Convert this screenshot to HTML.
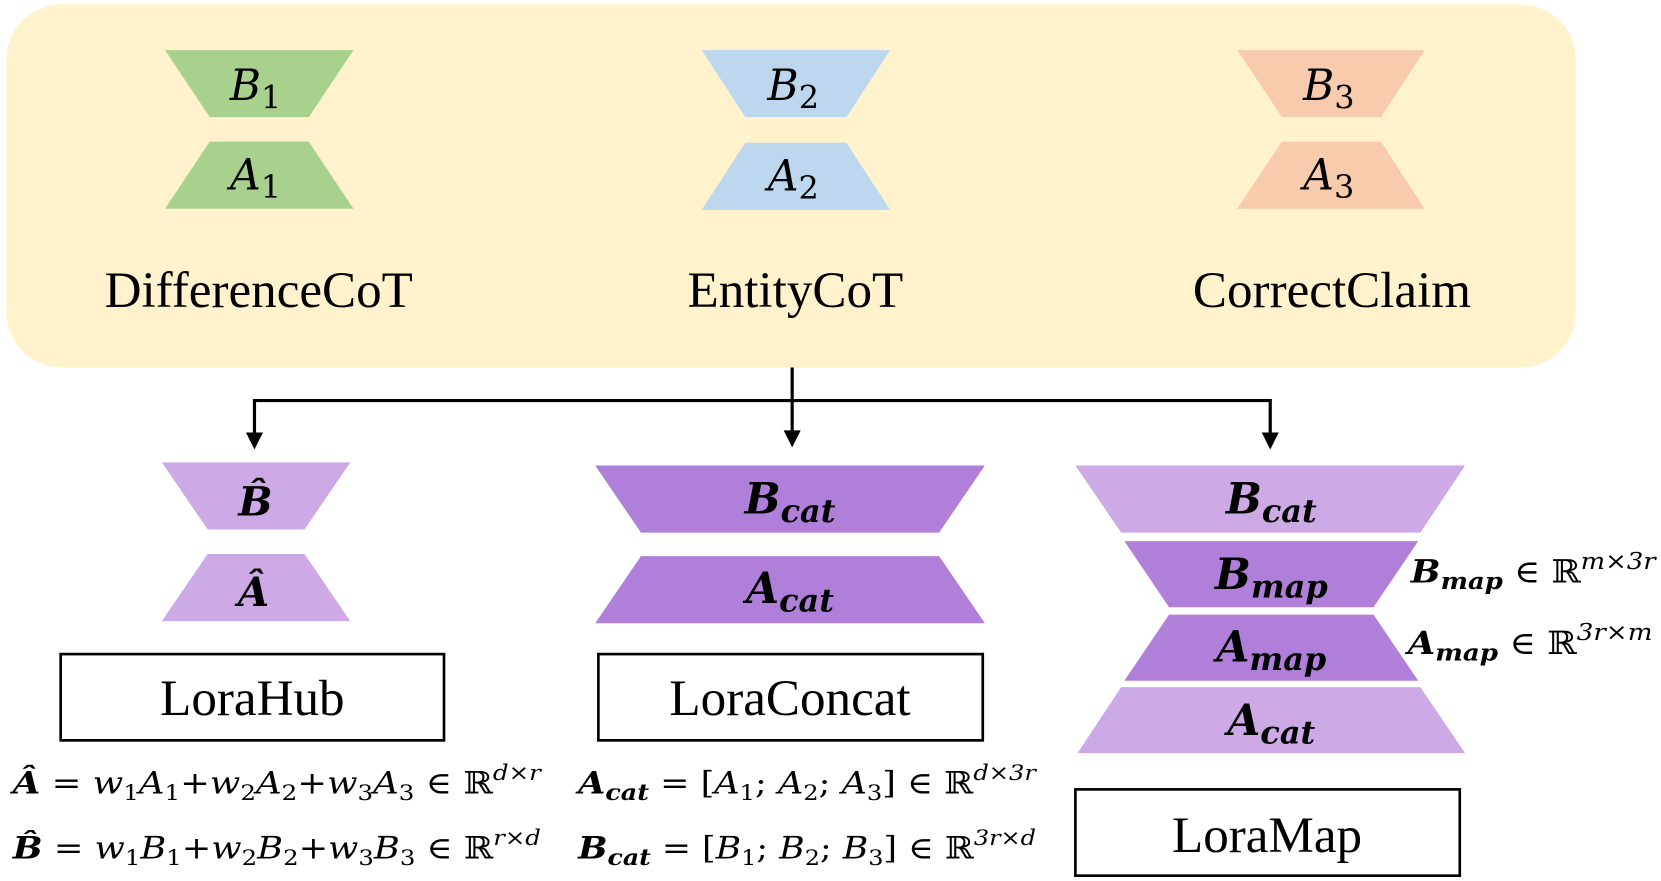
<!DOCTYPE html>
<html><head><meta charset="utf-8">
<style>
html,body{margin:0;padding:0;background:#fff;}
svg{display:block;}
.m{font-family:"DejaVu Serif","Liberation Serif",serif;font-style:italic;}
.t{font-family:"Liberation Serif",serif;}
.mb{font-family:"DejaVu Serif","Liberation Serif",serif;font-style:italic;font-weight:bold;}
.r{font-family:"DejaVu Serif",serif;font-style:normal;}
</style></head>
<body>
<svg width="1661" height="881" viewBox="0 0 1560 827" preserveAspectRatio="none" xmlns="http://www.w3.org/2000/svg">
<rect x="6" y="4" width="1474" height="341" rx="52" fill="#fff2cc"/>

<g>
<polygon points="155,47 332,47 290,110 197,110" fill="#a9d18e"/>
<polygon points="197,133 290,133 332,196 155,196" fill="#a9d18e"/>
<text x="240" y="94" class="m" font-size="40" text-anchor="middle">B<tspan font-size="30" font-style="normal" dy="8">1</tspan></text>
<text x="240" y="178" class="m" font-size="40" text-anchor="middle">A<tspan font-size="30" font-style="normal" dy="8">1</tspan></text>
<text x="243" y="288" class="t" font-size="48" text-anchor="middle">DifferenceCoT</text>
</g>
<g>
<polygon points="659,47 836,47 795,110 700,110" fill="#bdd7ee"/>
<polygon points="700,134 795,134 836,197 659,197" fill="#bdd7ee"/>
<text x="745" y="94" class="m" font-size="40" text-anchor="middle">B<tspan font-size="30" font-style="normal" dy="8">2</tspan></text>
<text x="745" y="179" class="m" font-size="40" text-anchor="middle">A<tspan font-size="30" font-style="normal" dy="8">2</tspan></text>
<text x="747" y="288" class="t" font-size="48" text-anchor="middle">EntityCoT</text>
</g>
<g>
<polygon points="1162,47 1338,47 1297,110 1204,110" fill="#f8cbad"/>
<polygon points="1204,133 1297,133 1338,196 1162,196" fill="#f8cbad"/>
<text x="1248" y="94" class="m" font-size="40" text-anchor="middle">B<tspan font-size="30" font-style="normal" dy="8">3</tspan></text>
<text x="1248" y="178" class="m" font-size="40" text-anchor="middle">A<tspan font-size="30" font-style="normal" dy="8">3</tspan></text>
<text x="1251" y="288" class="t" font-size="48" text-anchor="middle">CorrectClaim</text>
</g>

<g stroke="#000" stroke-width="3" fill="none">
<line x1="744" y1="345" x2="744" y2="408"/>
<polyline points="239,408 239,376 1193,376 1193,408"/>
</g>
<g fill="#000">
<polygon points="231,406 247,406 239,422"/>
<polygon points="736,404 752,404 744,420"/>
<polygon points="1185,406 1201,406 1193,422"/>
</g>

<g>
<polygon points="152,434 329,434 286,497 195,497" fill="#cdaae6"/>
<polygon points="195,520 286,520 329,583 152,583" fill="#cdaae6"/>
<text x="240" y="484" class="mb" font-size="38" text-anchor="middle">B̂</text>
<text x="238" y="569" class="mb" font-size="38" text-anchor="middle">Â</text>
<rect x="57" y="614" width="360" height="81" fill="#fff" stroke="#000" stroke-width="2.5"/>
<text x="237" y="671" class="t" font-size="48" text-anchor="middle">LoraHub</text>
</g>
<g>
<polygon points="559,437 925,437 882,500 602,500" fill="#b07fd9"/>
<polygon points="602,522 882,522 925,585 559,585" fill="#b07fd9"/>
<text x="742" y="482" class="mb" font-size="40" text-anchor="middle">B<tspan font-size="30" dy="8">cat</tspan></text>
<text x="742" y="566" class="mb" font-size="40" text-anchor="middle">A<tspan font-size="30" dy="8">cat</tspan></text>
<rect x="562" y="614" width="361" height="81" fill="#fff" stroke="#000" stroke-width="2.5"/>
<text x="742" y="671" class="t" font-size="48" text-anchor="middle">LoraConcat</text>
</g>
<g>
<polygon points="1010,437 1376,437 1334,500 1053,500" fill="#cdaae6"/>
<polygon points="1056,508 1332,508 1290,570 1098,570" fill="#b07fd9"/>
<polygon points="1098,577 1290,577 1332,639 1056,639" fill="#b07fd9"/>
<polygon points="1053,645 1334,645 1376,707 1012,707" fill="#cdaae6"/>
<text x="1194" y="482" class="mb" font-size="40" text-anchor="middle">B<tspan font-size="30" dy="8">cat</tspan></text>
<text x="1194" y="553" class="mb" font-size="40" text-anchor="middle">B<tspan font-size="30" dy="8">map</tspan></text>
<text x="1194" y="621" class="mb" font-size="40" text-anchor="middle">A<tspan font-size="30" dy="8">map</tspan></text>
<text x="1194" y="690" class="mb" font-size="40" text-anchor="middle">A<tspan font-size="30" dy="8">cat</tspan></text>
<text x="1325" y="547" class="mb" font-size="30" textLength="230" lengthAdjust="spacingAndGlyphs">B<tspan font-size="22" dy="6">map</tspan><tspan class="r" font-weight="normal" dy="-6"> ∈ ℝ</tspan><tspan class="m" font-weight="normal" font-size="22" dy="-13">m×3r</tspan></text>
<text x="1322" y="614" class="mb" font-size="30" textLength="230" lengthAdjust="spacingAndGlyphs">A<tspan font-size="22" dy="6">map</tspan><tspan class="r" font-weight="normal" dy="-6"> ∈ ℝ</tspan><tspan class="m" font-weight="normal" font-size="22" dy="-13">3r×m</tspan></text>
<rect x="1010" y="741" width="361" height="81" fill="#fff" stroke="#000" stroke-width="2.5"/>
<text x="1190" y="800" class="t" font-size="48" text-anchor="middle">LoraMap</text>
</g>

<g>
<text x="12" y="745" class="m" font-size="29" textLength="496" lengthAdjust="spacingAndGlyphs"><tspan font-weight="bold">Â</tspan><tspan class="r"> = </tspan>w<tspan font-size="20" font-style="normal" dy="6">1</tspan><tspan dy="-6">A</tspan><tspan font-size="20" font-style="normal" dy="6">1</tspan><tspan class="r" dy="-6">+</tspan>w<tspan font-size="20" font-style="normal" dy="6">2</tspan><tspan dy="-6">A</tspan><tspan font-size="20" font-style="normal" dy="6">2</tspan><tspan class="r" dy="-6">+</tspan>w<tspan font-size="20" font-style="normal" dy="6">3</tspan><tspan dy="-6">A</tspan><tspan font-size="20" font-style="normal" dy="6">3</tspan><tspan class="r" dy="-6"> ∈ ℝ</tspan><tspan font-size="20" dy="-13">d×r</tspan></text>
<text x="12" y="806" class="m" font-size="29" textLength="496" lengthAdjust="spacingAndGlyphs"><tspan font-weight="bold">B̂</tspan><tspan class="r"> = </tspan>w<tspan font-size="20" font-style="normal" dy="6">1</tspan><tspan dy="-6">B</tspan><tspan font-size="20" font-style="normal" dy="6">1</tspan><tspan class="r" dy="-6">+</tspan>w<tspan font-size="20" font-style="normal" dy="6">2</tspan><tspan dy="-6">B</tspan><tspan font-size="20" font-style="normal" dy="6">2</tspan><tspan class="r" dy="-6">+</tspan>w<tspan font-size="20" font-style="normal" dy="6">3</tspan><tspan dy="-6">B</tspan><tspan font-size="20" font-style="normal" dy="6">3</tspan><tspan class="r" dy="-6"> ∈ ℝ</tspan><tspan font-size="20" dy="-13">r×d</tspan></text>
<text x="543" y="745" class="m" font-size="29" textLength="430" lengthAdjust="spacingAndGlyphs"><tspan font-weight="bold">A</tspan><tspan font-weight="bold" font-size="21" dy="6">cat</tspan><tspan class="r" dy="-6"> = [</tspan>A<tspan font-size="20" font-style="normal" dy="6">1</tspan><tspan class="r" dy="-6">; </tspan>A<tspan font-size="20" font-style="normal" dy="6">2</tspan><tspan class="r" dy="-6">; </tspan>A<tspan font-size="20" font-style="normal" dy="6">3</tspan><tspan class="r" dy="-6">] ∈ ℝ</tspan><tspan font-size="20" dy="-13">d×3r</tspan></text>
<text x="543" y="806" class="m" font-size="29" textLength="430" lengthAdjust="spacingAndGlyphs"><tspan font-weight="bold">B</tspan><tspan font-weight="bold" font-size="21" dy="6">cat</tspan><tspan class="r" dy="-6"> = [</tspan>B<tspan font-size="20" font-style="normal" dy="6">1</tspan><tspan class="r" dy="-6">; </tspan>B<tspan font-size="20" font-style="normal" dy="6">2</tspan><tspan class="r" dy="-6">; </tspan>B<tspan font-size="20" font-style="normal" dy="6">3</tspan><tspan class="r" dy="-6">] ∈ ℝ</tspan><tspan font-size="20" dy="-13">3r×d</tspan></text>
</g>
</svg>
</body></html>
